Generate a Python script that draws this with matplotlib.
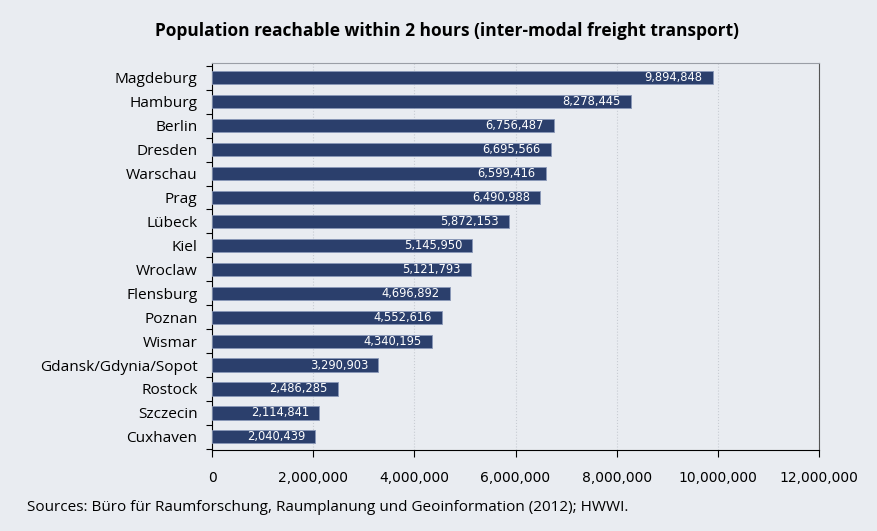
import matplotlib.pyplot as plt
import numpy as np
from matplotlib.ticker import FuncFormatter, FixedLocator

# Datos
ciudades = ['Magdeburg', 'Hamburg', 'Berlin', 'Dresden', 'Warschau', 'Prag', 'Lübeck', 'Kiel',
            'Wroclaw', 'Flensburg', 'Poznan', 'Wismar', 'Gdansk/Gdynia/Sopot', 'Rostock',
            'Szczecin', 'Cuxhaven']
poblacion = [9894848, 8278445, 6756487, 6695566, 6599416, 6490988, 5872153, 5145950,
             5121793, 4696892, 4552616, 4340195, 3290903, 2486285, 2114841, 2040439]
xticks = [0, 2000000, 4000000, 6000000, 8000000, 10000000, 12000000]

fondo = '#e9ecf1'
azul = '#2b3f6c'

fig = plt.figure(figsize=(8.78, 5.31), dpi=100, facecolor=fondo)
ax = fig.add_axes([0.2415, 0.1525, 0.6913, 0.7289], facecolor=fondo)

y = np.arange(len(ciudades))
ax.barh(y, poblacion, height=0.55, color=azul, edgecolor='#8a98b8', linewidth=0.6, zorder=3)

for yi, v in zip(y, poblacion):
    ax.text(v - 200000, yi, f'{v:,}', color='white', fontsize=8.3, ha='right', va='center',
            family='DejaVu Sans', zorder=4)

ax.set_ylim(len(ciudades) - 0.45, -0.62)
ax.set_xlim(0, 12000000)
ax.set_yticks(y)
ax.set_yticklabels(ciudades, family='Open Sans', fontsize=11.1)
ax.yaxis.set_minor_locator(FixedLocator(np.arange(-0.62, len(ciudades), 1.0) + 0.12))
ax.tick_params(axis='y', which='major', length=0, pad=10.5)
ax.tick_params(axis='y', which='minor', length=4, width=0.8, direction='out')

ax.set_xticks(xticks)
ax.xaxis.set_major_formatter(FuncFormatter(lambda x, _: f'{int(x):,}'))
ax.tick_params(axis='x', length=5, width=0.8, direction='out', pad=10, labelsize=10)

ax.grid(axis='x', color='#c8ccd3', linewidth=0.8, linestyle=':', zorder=0)
ax.spines['top'].set_color('#9a9ea6')
ax.spines['right'].set_color('#555555')
ax.spines['left'].set_color('black')
ax.spines['bottom'].set_color('black')

fig.text(0.509, 0.942, 'Population reachable within 2 hours (inter-modal freight transport)',
         ha='center', va='center', fontsize=12.5, fontweight='bold', family='Open Sans')
fig.text(0.031, 0.045, 'Sources: Büro für Raumforschung, Raumplanung und Geoinformation (2012); HWWI.',
         ha='left', va='center', fontsize=11, family='Open Sans')

fig.savefig('out.png', dpi=100, facecolor=fondo)
